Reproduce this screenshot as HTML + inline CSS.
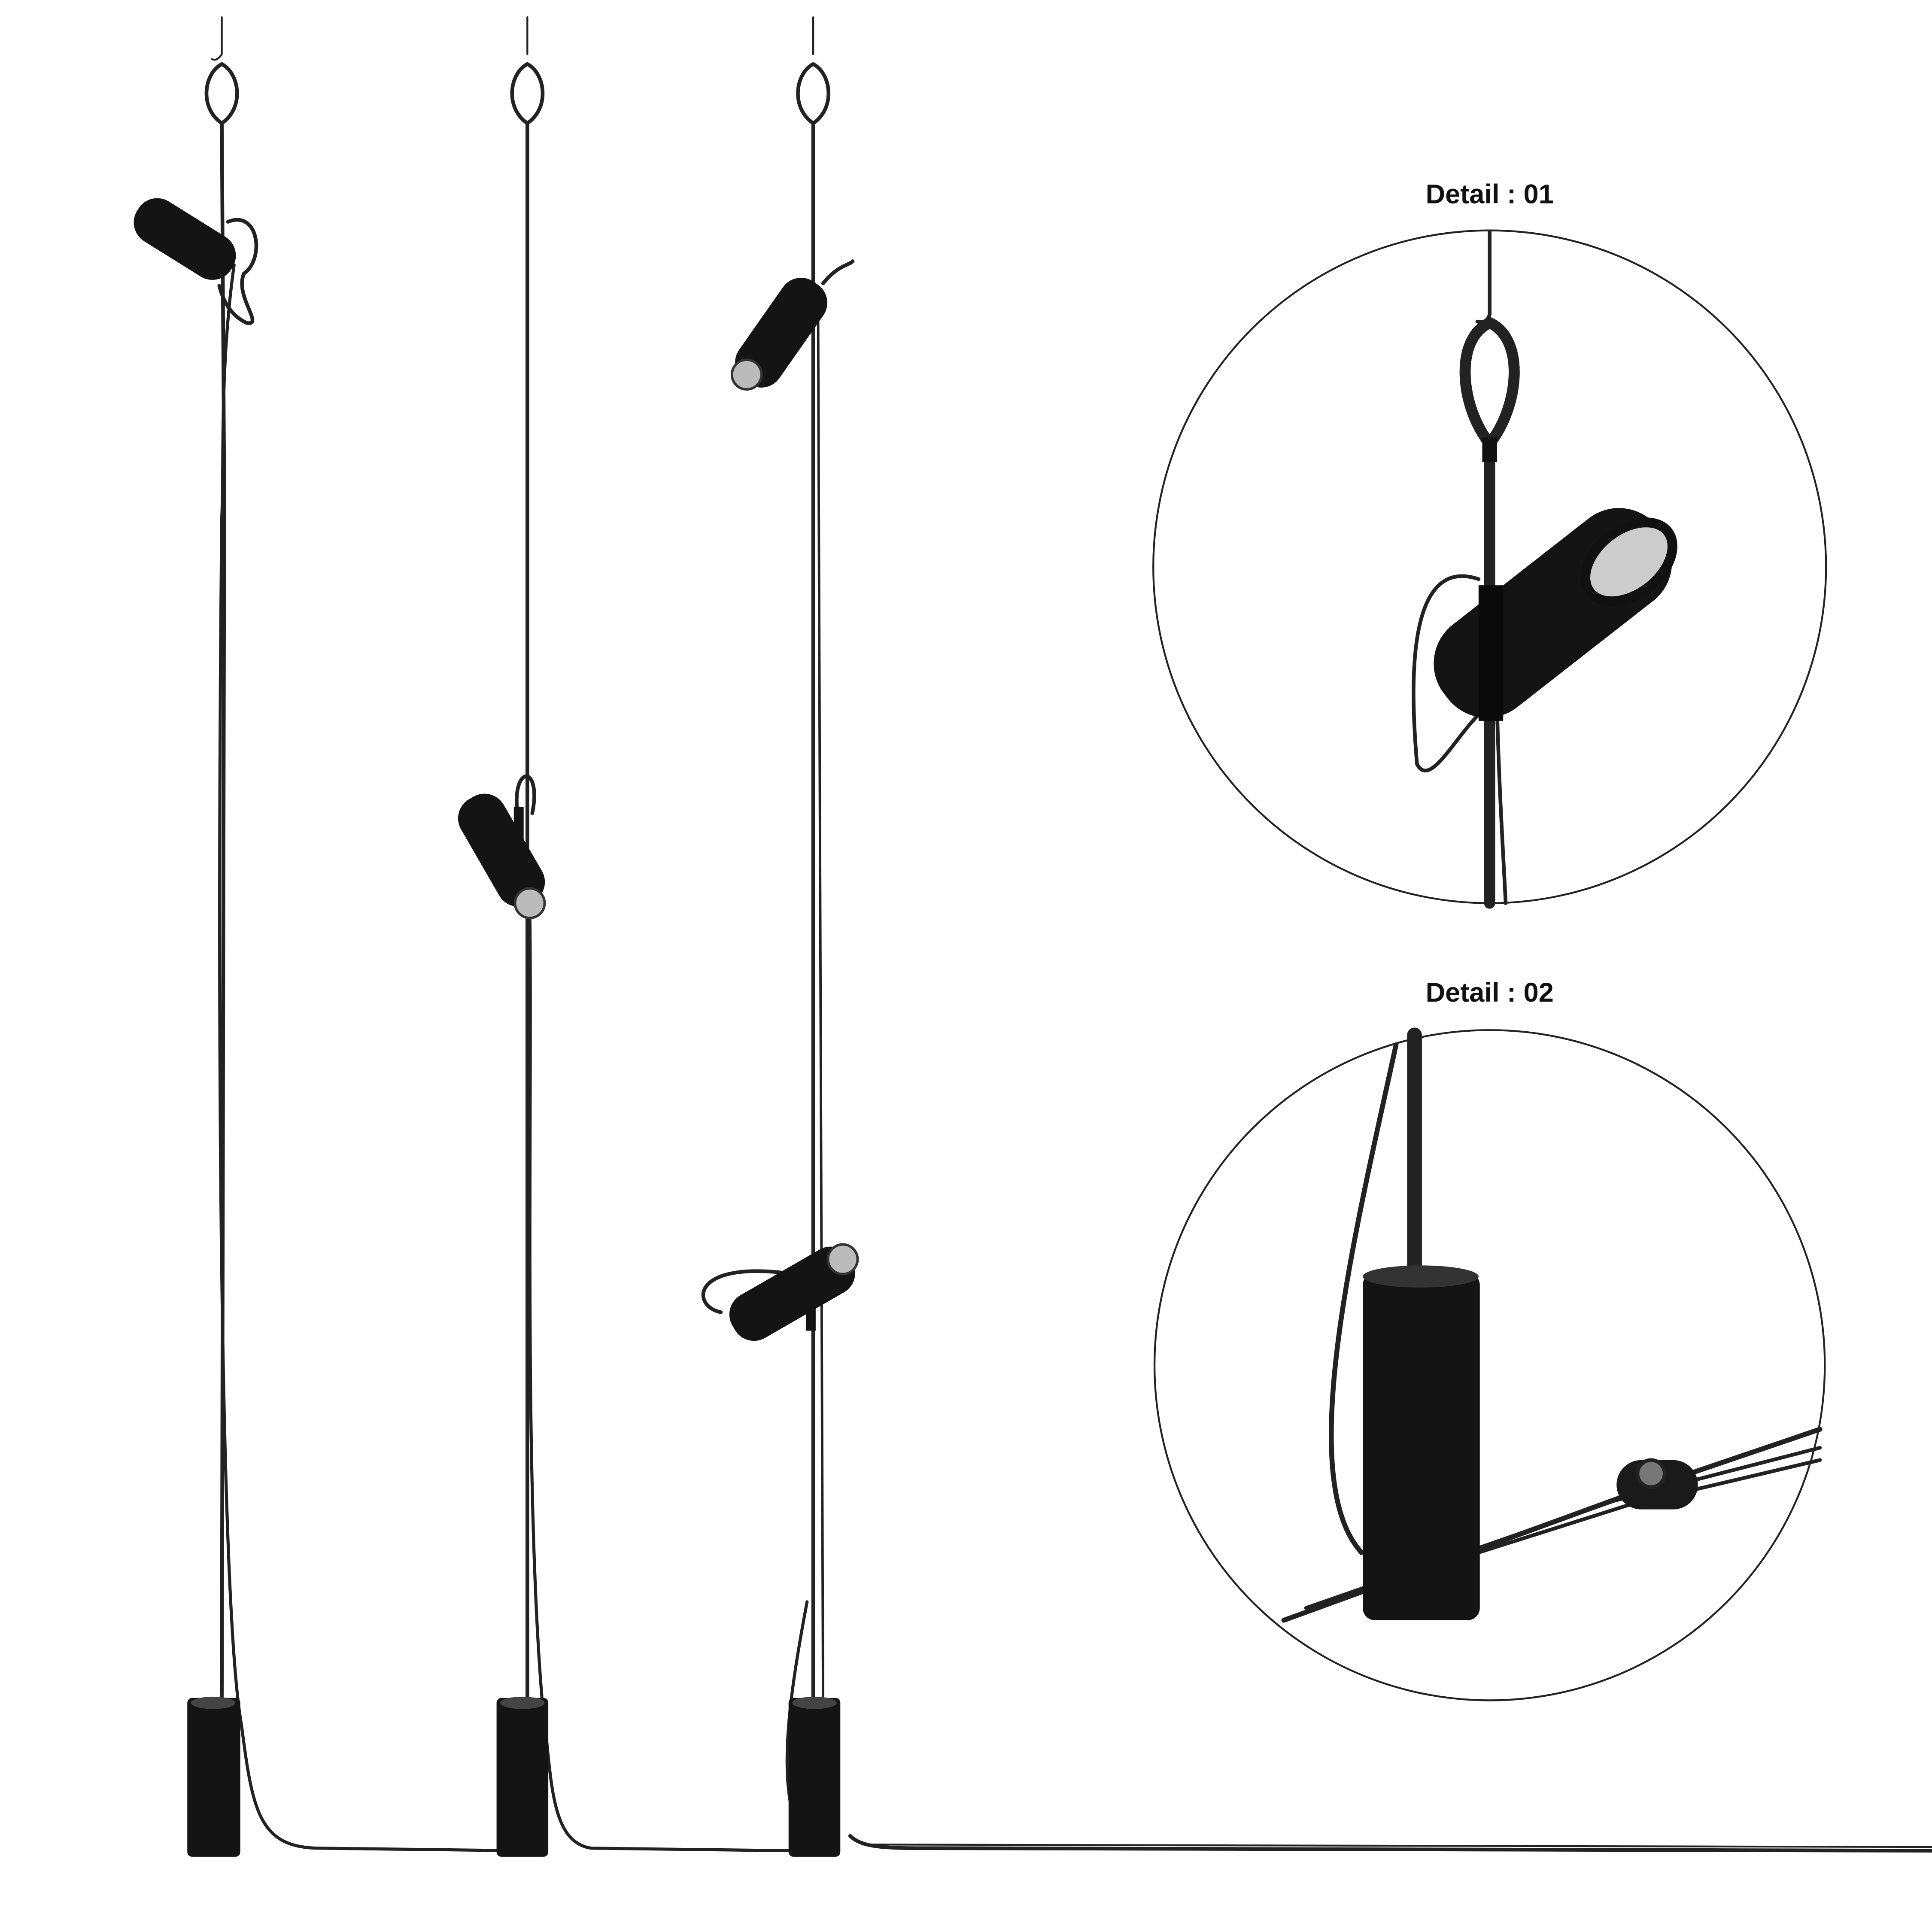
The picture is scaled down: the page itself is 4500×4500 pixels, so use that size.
<!DOCTYPE html>
<html><head><meta charset="utf-8"><style>
html,body{margin:0;padding:0;background:#fff;width:4500px;height:4500px;overflow:hidden}
svg{display:block}
text{font-family:"Liberation Sans",sans-serif;font-weight:bold}
</style></head><body>
<svg width="4500" height="4500" viewBox="0 0 1568 1568" xmlns="http://www.w3.org/2000/svg">
<rect width="1568" height="1568" fill="#fff"/>
<g fill="none" stroke="#222" stroke-linecap="round">
<!-- Lamp 1 -->
<path d="M180 14 V44 q-4 6 -8 4" stroke-width="1.5"/>
<path d="M180 52 C165 60 162 88 180 100 C198 88 195 60 180 52Z" stroke-width="3"/>
<path d="M180 100 L182 400 L180 1380" stroke-width="3"/>
<path d="M190 215 C178 300 182 380 180 420 C176 800 178 1300 196 1400 C205 1470 210 1500 260 1500 L420 1502" stroke-width="2.5"/>
<path d="M185 180 C210 170 215 210 198 222 C190 240 215 265 200 262 C185 255 180 240 178 232" stroke-width="3"/>
<!-- Lamp 2 -->
<path d="M428 14 V44" stroke-width="1.5"/>
<path d="M428 52 C413 60 410 88 428 100 C446 88 443 60 428 52Z" stroke-width="3"/>
<path d="M428 100 L428 1380" stroke-width="3"/>
<path d="M430 740 C432 900 425 1200 440 1380 C448 1440 445 1495 480 1500 L640 1502" stroke-width="2.5"/>
<path d="M420 660 C415 620 440 620 432 660" stroke-width="3"/>
<!-- Lamp 3 -->
<path d="M660 14 V44" stroke-width="1.5"/>
<path d="M660 52 C645 60 642 88 660 100 C678 88 675 60 660 52Z" stroke-width="3"/>
<path d="M660 100 L660 1380" stroke-width="3"/>
<path d="M664 260 L668 1380" stroke-width="2"/>
<path d="M655 1300 C640 1380 630 1450 650 1490" stroke-width="2.5"/>
<path d="M690 1490 C700 1500 720 1500 760 1500 L1568 1502" stroke-width="3"/>
<path d="M700 1497 L1568 1499" stroke-width="1.5"/>
<path d="M650 1035 C560 1020 560 1060 585 1065" stroke-width="3"/>
<path d="M668 230 C680 215 690 215 692 212" stroke-width="3"/>
</g>
<!-- Spotlights -->
<g fill="#141414">
<rect x="105" y="175" width="90" height="38" rx="18" transform="rotate(32 150 194)"/>
<rect x="358" y="670" width="98" height="40" rx="18" transform="rotate(60 407 690)"/>
<rect x="585" y="250" width="98" height="40" rx="18" transform="rotate(-55 634 270)"/>
<rect x="588" y="1030" width="110" height="40" rx="18" transform="rotate(-30 643 1050)"/>
<rect x="152" y="1378" width="43" height="129" rx="4"/>
<rect x="403" y="1378" width="42" height="129" rx="4"/>
<rect x="640" y="1378" width="42" height="129" rx="4"/>
<rect x="417" y="655" width="8" height="30"/>
<rect x="656" y="232" width="8" height="30"/>
<rect x="654" y="1052" width="8" height="28"/>
</g>
<g fill="#bbb" stroke="#333" stroke-width="2">
<circle cx="430" cy="733" r="12"/>
<circle cx="606" cy="304" r="12"/>
<circle cx="684" cy="1022" r="12"/>
</g>
<ellipse cx="173" cy="1382" rx="18" ry="5" fill="#444"/>
<ellipse cx="424" cy="1382" rx="18" ry="5" fill="#444"/>
<ellipse cx="661" cy="1382" rx="18" ry="5" fill="#444"/>

<!-- Detail 01 -->
<text x="1209" y="165" font-size="22" text-anchor="middle" fill="#111">Detail : 01</text>
<circle cx="1209" cy="460" r="273" fill="none" stroke="#222" stroke-width="1.5"/>
<g fill="none" stroke="#222" stroke-linecap="round">
<path d="M1209 188 V255 q-2 8 -10 6" stroke-width="3"/>
<path d="M1209 262 C1180 275 1185 330 1209 360 C1233 330 1238 275 1209 262Z" stroke-width="9"/>
<path d="M1209 360 V733" stroke-width="9"/>
<path d="M1214 520 C1215 620 1220 690 1222 733" stroke-width="3"/>
<path d="M1200 470 C1140 450 1145 560 1150 620 C1160 640 1180 600 1200 580" stroke-width="3"/>
</g>
<rect x="1203" y="355" width="12" height="20" fill="#111"/>
<rect x="1150" y="455" width="220" height="85" rx="40" fill="#141414" transform="rotate(-38 1260 497)"/>
<ellipse cx="1322" cy="456" rx="26" ry="40" fill="#ccc" stroke="#111" stroke-width="8" transform="rotate(52 1322 456)"/>
<rect x="1200" y="475" width="20" height="110" fill="#0a0a0a"/>

<!-- Detail 02 -->
<text x="1209" y="813" font-size="22" text-anchor="middle" fill="#111">Detail : 02</text>
<circle cx="1209" cy="1108" r="272" fill="none" stroke="#222" stroke-width="1.5"/>
<g fill="none" stroke="#222" stroke-linecap="round">
<path d="M1148 840 V1040" stroke-width="12"/>
<path d="M1133 848 C1100 1000 1050 1200 1105 1260" stroke-width="4"/>
<path d="M1042 1315 L1330 1210 L1477 1160" stroke-width="4"/>
<path d="M1060 1305 L1310 1218 L1477 1175" stroke-width="3"/>
<path d="M1200 1260 L1320 1222 L1477 1185" stroke-width="3"/>
</g>
<rect x="1106" y="1033" width="95" height="282" rx="10" fill="#141414"/>
<ellipse cx="1153" cy="1036" rx="47" ry="9" fill="#333"/>
<rect x="1312" y="1185" width="66" height="40" rx="20" fill="#1a1a1a"/>
<circle cx="1340" cy="1196" r="11" fill="#777" stroke="#222" stroke-width="3"/>
</svg>
</body></html>
